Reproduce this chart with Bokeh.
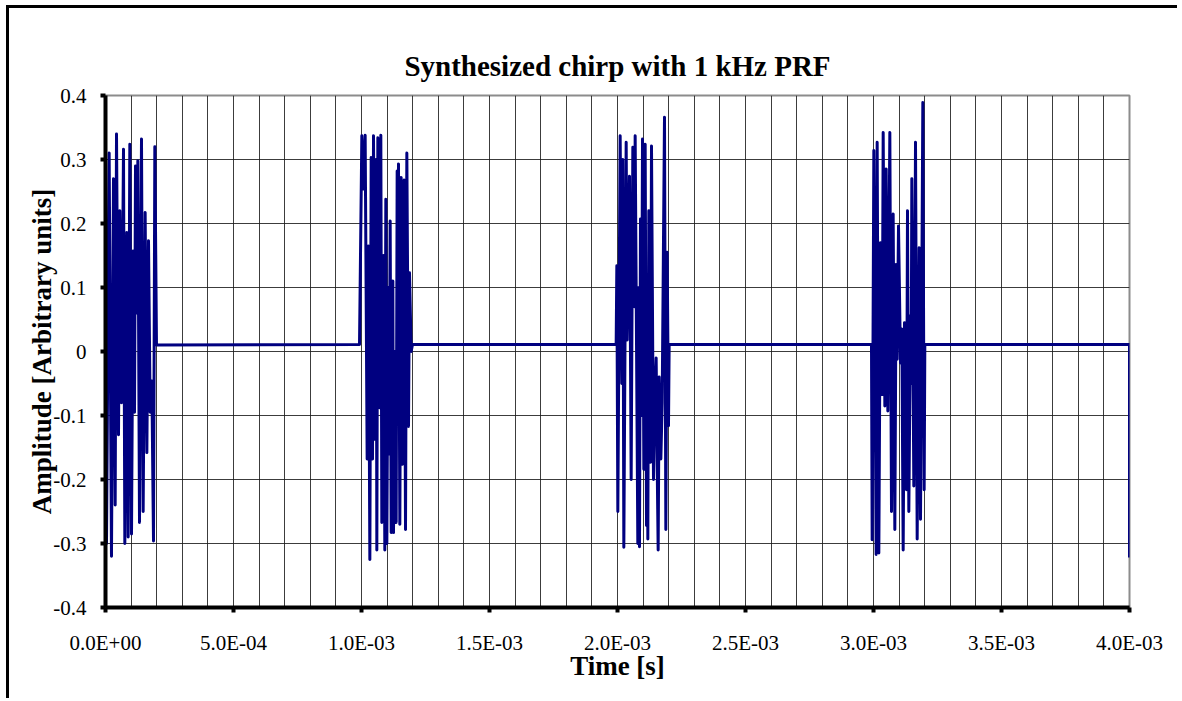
from bokeh.plotting import figure
from bokeh.models import Range1d, FixedTicker
from bokeh.embed import file_html
from bokeh.resources import INLINE

# ---- data (times in microseconds relative to each pulse start) ----
pulse_starts_us = [0.0, 1000.0, 2000.0, 3000.0]

burst1_us = [0.0, 3.9, 14.3, 23.4, 31.2, 37.8, 43.0, 50.8, 56.0, 62.5, 70.3, 75.5, 83.3, 88.5,
             95.0, 101.6, 108.1, 113.3, 117.2, 122.4, 126.3, 132.8, 140.6, 147.1, 154.9, 161.5,
             168.0, 174.5, 181.0, 187.5, 192.7, 199.2]
burst1_amp = [0.335, -0.30, 0.31, -0.32, 0.27, -0.24, 0.34, -0.13, 0.22, -0.08, 0.316, -0.30,
              0.186, -0.29, 0.324, -0.285, 0.157, -0.095, 0.29, 0.06, 0.298, -0.267, 0.332,
              -0.25, 0.217, -0.158, 0.173, -0.095, -0.046, -0.296, 0.32, 0.01]

burst2_us = [-7.8, 1.3, 9.1, 14.3, 22.1, 27.3, 32.6, 37.8, 43.0, 46.9, 53.4, 57.3, 59.9, 63.8,
             70.3, 75.5, 79.4, 85.9, 91.1, 95.0, 99.0, 104.2, 108.1, 112.0, 115.9, 122.4, 125.0,
             130.2, 135.4, 139.3, 141.9, 144.5, 149.7, 154.9, 160.1, 166.7, 171.9, 177.1, 183.6,
             187.5, 194.0, 199.2]
burst2_amp = [0.011, 0.337, 0.254, 0.338, -0.168, 0.165, -0.325, 0.303, -0.168, 0.337, -0.137,
              0.30, -0.31, 0.334, -0.088, 0.338, -0.267, 0.15, -0.31, 0.238, -0.30, 0.10, -0.16,
              0.204, -0.283, 0.11, -0.283, 0.0, -0.267, 0.282, 0.10, 0.293, -0.27, 0.272, -0.176,
              0.268, -0.278, 0.31, -0.117, 0.123, 0.0, 0.011]

burst3_us = [-5.2, -2.6, 1.3, 10.4, 16.9, 20.8, 24.7, 33.9, 37.8, 46.9, 53.4, 59.9, 66.4, 69.0,
             79.4, 83.3, 85.9, 89.8, 93.7, 97.7, 102.9, 108.1, 113.3, 115.9, 118.5, 122.4, 128.9,
             132.8, 140.6, 145.8, 151.0, 154.9, 158.8, 162.8, 169.3, 174.5, 183.6, 188.8, 194.0,
             199.2, 201.8]
burst3_amp = [0.011, 0.134, -0.25, 0.337, -0.05, 0.30, -0.306, 0.327, 0.018, 0.274, -0.20, 0.319,
              0.07, 0.337, -0.30, 0.10, -0.305, 0.207, -0.10, 0.332, -0.184, 0.324, -0.272, 0.0,
              -0.293, 0.22, -0.173, 0.321, -0.20, -0.064, -0.01, -0.17, -0.31, -0.04, -0.168,
              -0.08, 0.366, -0.278, 0.155, -0.116, 0.011]

burst4_us = [-7.8, -5.2, 1.3, 10.4, 14.3, 20.8, 27.3, 33.9, 37.8, 44.3, 49.5, 56.0, 63.8, 70.3,
             76.8, 83.3, 88.5, 92.4, 97.7, 105.5, 110.7, 115.9, 121.1, 128.9, 132.8, 138.0, 144.5,
             147.1, 149.7, 157.5, 164.1, 170.6, 178.4, 183.6, 192.7, 197.9, 200.5]
burst4_amp = [0.011, -0.294, 0.314, -0.317, 0.327, -0.315, 0.17, -0.067, 0.342, -0.085, 0.285,
              -0.093, 0.342, -0.25, 0.215, -0.278, 0.136, -0.012, 0.196, -0.018, 0.035, -0.31,
              0.045, -0.216, 0.22, -0.25, 0.056, -0.05, 0.27, -0.21, 0.327, -0.293, 0.162,
              -0.262, 0.389, -0.216, 0.011]

tail_us = [4000.0, 4000.0]
tail_amp = [0.011, -0.322]

x_ticks = [0.0, 0.0005, 0.001, 0.0015, 0.002, 0.0025, 0.003, 0.0035, 0.004]
x_tick_labels = ["0.0E+00", "5.0E-04", "1.0E-03", "1.5E-03", "2.0E-03", "2.5E-03",
                 "3.0E-03", "3.5E-03", "4.0E-03"]
y_ticks = [-0.4, -0.3, -0.2, -0.1, 0.0, 0.1, 0.2, 0.3, 0.4]
y_tick_labels = ["-0.4", "-0.3", "-0.2", "-0.1", "0", "0.1", "0.2", "0.3", "0.4"]

# ---- assemble series ----
t_s, amp = [], []
for start, tus, a in zip(pulse_starts_us,
                         [burst1_us, burst2_us, burst3_us, burst4_us],
                         [burst1_amp, burst2_amp, burst3_amp, burst4_amp]):
    t_s += [(start + u) * 1e-6 for u in tus]
    amp += a
t_s += [u * 1e-6 for u in tail_us]
amp += tail_amp

FONT = "Liberation Serif"
OX, OY = 9, 8          # canvas origin on the page (after margin + border)
W, H = 1171, 693

p = figure(width=W, height=H, output_backend="svg", toolbar_location=None,
           x_range=Range1d(0, 0.004), y_range=Range1d(-0.4, 0.4),
           min_border_left=105 - OX, min_border_right=W - (1129 - OX),
           min_border_top=95 - OY, min_border_bottom=H - (607 - OY),
           title="Synthesized chirp with 1 kHz PRF")
p.styles = {"margin-left": "6px", "margin-top": "5px",
            "border-left": "3px solid black", "border-top": "3px solid black"}
p.background_fill_color = "white"
p.border_fill_color = "white"
p.outline_line_color = "#8c8c8c"
p.outline_line_width = 2

p.title.align = "center"
p.title.text_font = FONT
p.title.text_font_style = "bold"
p.title.text_font_size = "29px"
p.title.text_color = "black"
p.title.standoff = 27

p.line(t_s, amp, line_color="#000080", line_width=3, line_join="round")

# grids
p.xgrid.ticker = FixedTicker(ticks=[i * 1e-4 for i in range(41)])
p.ygrid.ticker = FixedTicker(ticks=y_ticks)
for g in (p.xgrid, p.ygrid):
    g.grid_line_color = "#1a1a1a"
    g.grid_line_width = 1
    g.grid_line_alpha = 0.85

# axes
p.xaxis.ticker = FixedTicker(ticks=x_ticks)
p.xaxis.major_label_overrides = {t: l for t, l in zip(x_ticks, x_tick_labels)}
p.yaxis.ticker = FixedTicker(ticks=y_ticks)
p.yaxis.major_label_overrides = {t: l for t, l in zip(y_ticks, y_tick_labels)}
p.xaxis.axis_label = "Time [s]"
p.yaxis.axis_label = "Amplitude [Arbitrary units]"
for ax in (p.xaxis, p.yaxis):
    ax.axis_line_color = "black"
    ax.axis_line_width = 4
    ax.major_tick_line_color = "black"
    ax.major_tick_line_width = 4
    ax.major_tick_in = 0
    ax.major_tick_out = 5
    ax.minor_tick_line_color = None
    ax.major_label_text_font = FONT
    ax.major_label_text_font_size = "21px"
    ax.major_label_text_color = "black"
    ax.axis_label_text_font = FONT
    ax.axis_label_text_font_size = "27px"
    ax.axis_label_text_font_style = "bold"
    ax.axis_label_text_color = "black"
p.xaxis.major_label_standoff = 18
p.yaxis.major_label_standoff = 14
p.xaxis.axis_label_standoff = -7
p.yaxis.axis_label_standoff = -7

open("out.html", "w").write(file_html(p, INLINE))
